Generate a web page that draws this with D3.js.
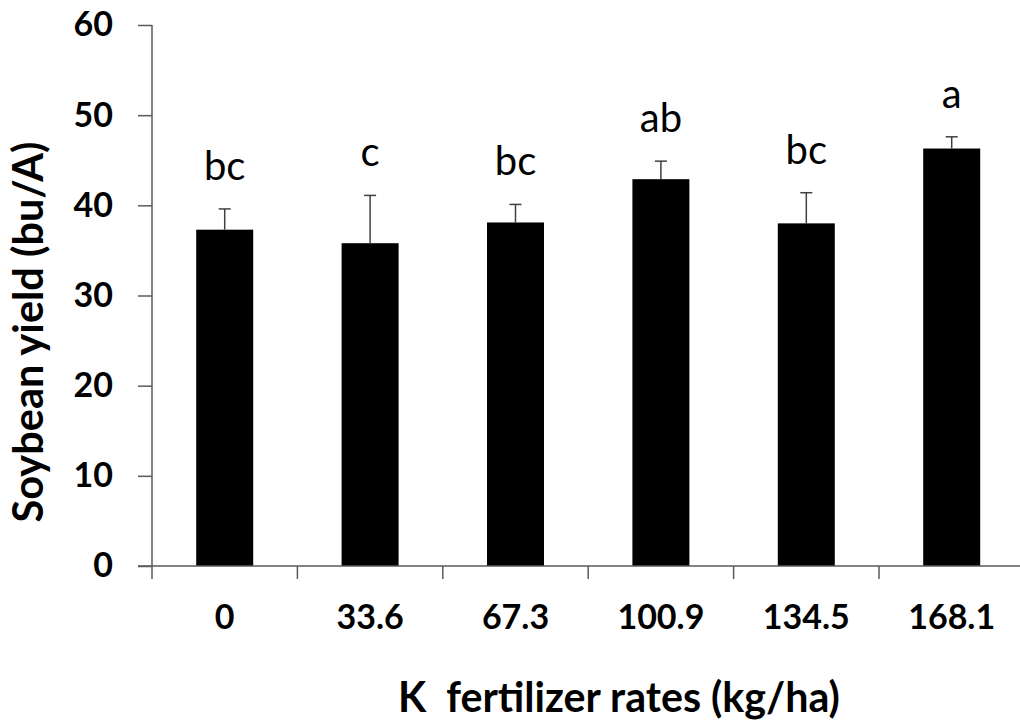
<!DOCTYPE html>
<html>
<head>
<meta charset="utf-8">
<script src="https://cdn.jsdelivr.net/npm/d3@7"></script>
<style>
  body { margin: 0; background: #fff; }
  svg { display: block; }
  text { font-family: Lato, "Open Sans", sans-serif; fill: #000; }
</style>
</head>
<body>
<div id="chart"></div>
<script>
// data
var rates = ['0', '33.6', '67.3', '100.9', '134.5', '168.1'];
var yields = [37.3, 35.8, 38.1, 42.9, 38.0, 46.3];
var errs = [2.3, 5.3, 2.0, 2.0, 3.4, 1.3];
var letters = ['bc', 'c', 'bc', 'ab', 'bc', 'a'];
var yTicks = [0, 10, 20, 30, 40, 50, 60];

var axis_color = '#5a5a5a';
var err_color = '#404040';

var width = 1020, height = 722;
var plot_left = 152, plot_right = 152 + 6 * 145.4;
var plot_top = 25, plot_bottom = 566;

var svg = d3.select('#chart').append('svg')
    .attr('width', width)
    .attr('height', height);

var x = d3.scaleBand()
    .domain(rates)
    .range([plot_left, plot_right])
    .paddingInner(0.608)
    .paddingOuter(0.304);

var y = d3.scaleLinear()
    .domain([0, 60])
    .range([plot_bottom, plot_top]);

// bars
svg.append('g').selectAll('rect')
    .data(rates)
    .enter().append('rect')
    .attr('x', function(d) { return x(d); })
    .attr('y', function(d, i) { return y(yields[i]); })
    .attr('width', x.bandwidth())
    .attr('height', function(d, i) { return y(0) - y(yields[i]); })
    .attr('fill', '#000');

// error bars (upper only)
var eb = svg.append('g').attr('stroke', err_color).attr('stroke-width', 1.5);
rates.forEach(function(d, i) {
    var cx = x(d) + x.bandwidth() / 2;
    eb.append('line')
        .attr('x1', cx).attr('x2', cx)
        .attr('y1', y(yields[i])).attr('y2', y(yields[i] + errs[i]));
    eb.append('line')
        .attr('x1', cx - 6).attr('x2', cx + 6)
        .attr('y1', y(yields[i] + errs[i])).attr('y2', y(yields[i] + errs[i]));
});

// significance letters
svg.append('g').selectAll('text')
    .data(rates)
    .enter().append('text')
    .attr('x', function(d) { return x(d) + x.bandwidth() / 2; })
    .attr('y', function(d, i) { return y(yields[i] + errs[i]) - 29; })
    .attr('text-anchor', 'middle')
    .style('font-size', '40px')
    .text(function(d, i) { return letters[i]; });

// y axis
var yAxis = svg.append('g')
    .attr('transform', 'translate(' + plot_left + ',0)')
    .call(d3.axisLeft(y).tickValues(yTicks).tickSize(14).tickPadding(25).tickFormat(d3.format('d')));
yAxis.select('.domain').attr('stroke', axis_color).attr('stroke-width', 1.5).attr('d', 'M0,' + plot_top + 'V' + plot_bottom);
yAxis.selectAll('.tick line').attr('stroke', axis_color).attr('stroke-width', 1.5);
yAxis.selectAll('.tick text')
    .style('font-size', '34px').style('font-weight', 'bold').attr('fill', '#000');

// x axis
var xg = svg.append('g');
xg.append('line')
    .attr('x1', plot_left - 14).attr('x2', plot_right)
    .attr('y1', y(0)).attr('y2', y(0))
    .attr('stroke', axis_color).attr('stroke-width', 1.5);
d3.range(rates.length + 1).forEach(function(i) {
    var tx = plot_left + i * x.step();
    xg.append('line')
        .attr('x1', tx).attr('x2', tx)
        .attr('y1', y(0)).attr('y2', y(0) + 13)
        .attr('stroke', axis_color).attr('stroke-width', 1.5);
});
xg.selectAll('text.xlab')
    .data(rates)
    .enter().append('text')
    .attr('class', 'xlab')
    .attr('x', function(d) { return x(d) + x.bandwidth() / 2; })
    .attr('y', 629)
    .attr('text-anchor', 'middle')
    .style('font-size', '34px').style('font-weight', 'bold')
    .text(function(d) { return d; });

// axis titles, font size fitted to the width they take in the figure
function fitText(sel, target, start) {
    sel.style('font-size', start + 'px');
    var len = sel.node().getComputedTextLength();
    sel.style('font-size', (start * target / len) + 'px');
}

var xTitle = svg.append('text')
    .attr('x', 619).attr('y', 712)
    .attr('text-anchor', 'middle')
    .style('font-weight', 'bold')
    .style('white-space', 'pre')
    .text('K  fertilizer rates (kg/ha)');
fitText(xTitle, 442, 36);

var yTitle = svg.append('text')
    .attr('transform', 'translate(43,332) rotate(-90)')
    .attr('text-anchor', 'middle')
    .style('font-weight', 'bold')
    .text('Soybean yield (bu/A)');
fitText(yTitle, 381, 38);
</script>
</body>
</html>
